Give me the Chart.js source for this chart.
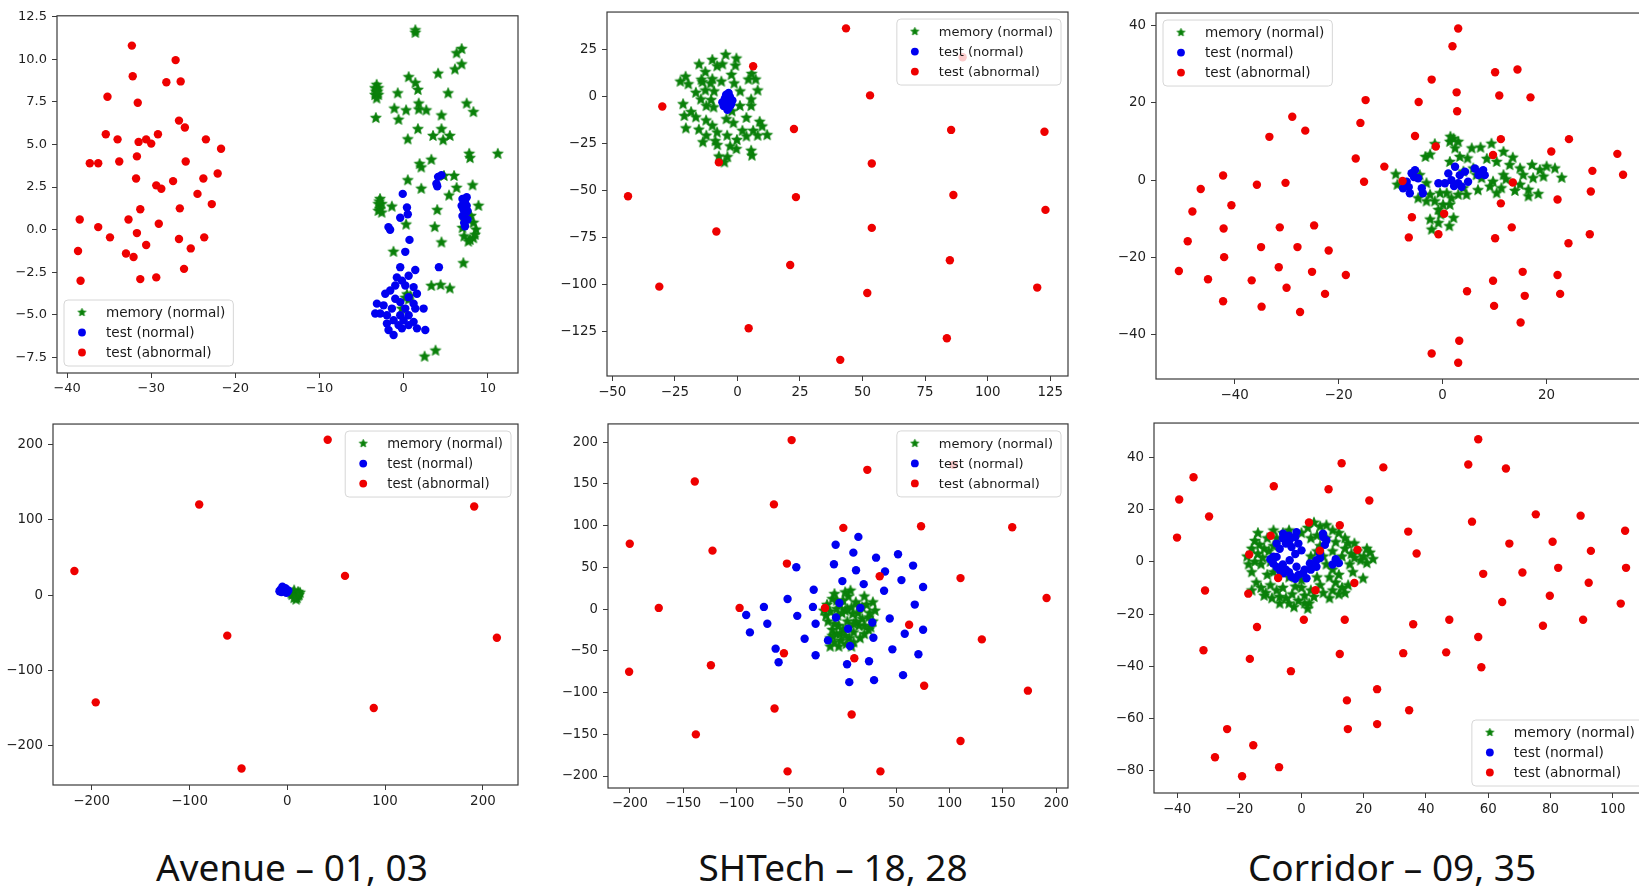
<!DOCTYPE html>
<html lang="en">
<head>
  <meta charset="UTF-8">
  <title>t-SNE memory / test features</title>
  <script src="https://cdn.jsdelivr.net/npm/chart.js"></script>
  <style>
    html, body {
      margin: 0;
      width: 1639px;
      height: 888px;
      overflow: hidden;
      background: #fff;
    }
    canvas {
      position: absolute;
    }
    .cap {
      position: absolute;
      top: 847px;
      font-family: "Noto Sans", sans-serif;
      font-size: 37px;
      line-height: 40px;
      color: #111;
      white-space: nowrap;
      transform: translateX(-50%);
    }
  </style>
</head>
<body>
  <canvas id="avenue01"></canvas>
  <canvas id="shtech18"></canvas>
  <canvas id="corridor09"></canvas>
  <canvas id="avenue03"></canvas>
  <canvas id="shtech28"></canvas>
  <canvas id="corridor35"></canvas>

  <div class="cap" style="left:292px">Avenue – 01, 03</div>
  <div class="cap" style="left:833px">SHTech – 18, 28</div>
  <div class="cap" style="left:1392px">Corridor – 09, 35</div>

  <script>
    const seriesLabels = ['memory (normal)', 'test (normal)', 'test (abnormal)'];

    // ---- Avenue 01 (top left) ----
    const avenue01Mem = [[1.4,11.55],[1.4,11.7],[6.9,10.6],[6.3,10.35],[6.9,9.7],[6.1,9.4],[4.1,9.15],[0.6,8.95],[1.4,8.6],[1.7,8.2],[-0.7,8.0],[5.3,8.0],
      [-3.2,8.5],[-3.4,8.3],[-3.0,8.3],[-3.4,7.9],[-3.0,7.9],[-3.2,7.7],[-3.3,8.1],[-3.1,8.1],
      [7.5,7.4],[8.3,6.9],[1.8,7.4],[-1.1,7.1],[0.3,7.0],[1.8,7.05],[2.7,7.0],[4.5,6.7],[-3.3,6.55],[-0.6,6.45],[1.7,5.9],[4.5,5.9],[3.5,5.5],[5.5,5.5],[4.7,5.25],[0.5,5.3],
      [7.8,4.45],[7.9,4.2],[11.2,4.45],[3.3,4.1],[1.9,3.85],[2.1,3.65],[0.5,2.9],[4.8,3.15],[6.0,3.15],[6.3,2.45],[8.2,2.6],[2.1,2.4],[5.4,2.0],
      [-2.8,1.8],[-3.0,1.5],[-2.6,1.5],[-2.8,1.2],[-3.0,1.1],[-2.6,1.0],[-2.9,1.65],
      [-1.4,1.35],[4.0,1.15],[8.9,1.4],[0.3,0.3],[3.7,0.15],
      [7.7,0.6],[8.3,0.4],[8.6,0],[8.3,-0.5],[7.7,-0.7],[7.2,-0.4],[7.0,0.1],[7.3,0.5],[8.0,0.8],[8.5,-0.3],[7.9,-0.6],
      [4.5,-0.75],[-1.2,-1.3],[7.1,-1.97],[3.3,-3.3],[4.4,-3.25],[5.5,-3.45],[0.4,-3.8],[0.2,-4.0],[0.6,-4.1],[0.8,-3.9],[-0.2,-4.65],[2.5,-7.45],[3.8,-7.1]];
    const avenue01Test = [[4.1,3.1],[3.9,2.7],[4.5,3.2],[4.0,2.55],[-0.1,2.1],[0.4,1.3],[0.5,0.9],[-0.4,0.7],[-1.8,0.15],[-1.6,0.0],[0.7,-0.6],[0.2,-1.3],
      [7.0,1.8],[7.3,1.6],[7.5,1.4],[7.1,1.2],[7.4,1.0],[7.0,0.8],[7.6,0.6],[7.2,0.4],[7.5,1.9],[7.3,0.2],[7.6,1.1],[6.9,1.4],
      [4.2,-2.2],[-0.4,-2.2],[1.39,-2.37],[0.6,-2.7],[-0.8,-2.8],[-0.2,-2.99],[-0.99,-3.28],[0.2,-3.28],[1.19,-3.37],[-1.59,-3.57],[1.59,-3.76],[-2.18,-3.76],
      [0.6,-3.96],[-0.99,-4.05],[-0.4,-4.25],[1.19,-4.34],[-2.38,-4.44],[-3.17,-4.34],[-1.39,-4.63],[0.2,-4.63],[1.39,-4.63],[2.38,-4.63],[-2.78,-4.92],[-1.98,-5.02],
      [-0.4,-5.02],[0.6,-5.02],[-1.19,-5.31],[0,-5.31],[1.19,-5.41],[-1.98,-5.51],[-0.6,-5.6],[0.6,-5.6],[1.59,-5.79],[-1.79,-5.89],[-1.19,-6.18],[2.58,-5.89],[-0.2,-5.79],[-3.37,-4.92]];
    const avenue01Abn = [[-32.3,10.8],[-27.1,9.95],[-32.2,9.0],[-28.2,8.65],[-26.5,8.7],[-35.2,7.8],[-31.6,7.45],[-26.7,6.4],[-26.0,6.0],[-35.4,5.6],[-34.0,5.3],[-31.5,5.15],
      [-30.6,5.3],[-30.0,5.05],[-29.2,5.6],[-23.5,5.3],[-21.7,4.75],[-37.3,3.9],[-36.3,3.9],[-33.8,4.0],[-31.7,4.3],[-25.9,4.0],[-31.8,3.0],[-27.4,2.85],[-29.4,2.6],
      [-28.8,2.4],[-23.8,3.0],[-22.1,3.3],[-24.5,2.1],[-22.8,1.5],[-31.3,1.2],[-26.6,1.25],[-38.5,0.6],[-32.7,0.6],[-36.3,0.15],[-29.1,0.35],[-34.9,-0.45],[-31.7,-0.2],
      [-26.7,-0.55],[-23.7,-0.45],[-30.6,-0.9],[-25.3,-1.1],[-38.7,-1.25],[-33.0,-1.4],[-32.1,-1.6],[-26.1,-2.3],[-31.3,-2.9],[-29.4,-2.8],[-38.4,-3.0]];
    const avenue01XTicks = [-40, -30, -20, -10, 0, 10];
    const avenue01YTicks = [-7.5, -5, -2.5, 0, 2.5, 5, 7.5, 10, 12.5];

    // ---- SHTech 18 (top middle) ----
    const shtech18Mem = [[-4.7,22.3],[-0.4,20.3],[-10.0,19.6],[-6.0,17.2],[-15.3,17.2],[-8.1,16.2],[-0.8,16.5],[-20.7,10.6],[-12.8,13.1],[-2.4,11.6],[-14.4,9.0],[-10.0,9.3],
      [5.7,12.1],[7.3,9.1],[4.4,9.1],[-22.8,8.0],[-19.6,6.6],[-14.0,7.7],[-10.7,7.0],[-6.4,8.0],[-1.3,7.0],[-16.6,2.1],[-12.8,3.3],[-9.3,2.8],[1.1,2.8],[8.1,3.3],
      [-14.6,-1.5],[-10.5,-1.8],[5.5,-1.5],[-21.7,-4.0],[-12.4,-5.0],[-9.5,-5.7],[1.0,-5.0],[5.5,-5.0],[-2.2,-7.8],[-18.5,-8.2],[-21.2,-10.3],[-16.6,-11.0],
      [-12.5,-12.7],[-4.4,-12.0],[3.6,-11.3],[-10.0,-15.5],[-1.6,-14.1],[8.9,-13.4],[9.9,-15.9],[-20.6,-16.9],[-15.4,-17.6],[2.0,-18.2],[6.3,-18.2],[-8.1,-19.1],
      [11.9,-20.5],[-12.4,-20.8],[-4.1,-20.8],[3.6,-21.2],[8.1,-20.8],[-8.8,-23.7],[-0.2,-23.1],[-13.8,-24.3],[-8.0,-25.8],[-2.9,-26.5],[-0.4,-27.9],[5.5,-28.8],
      [5.8,-31.4],[-7.4,-31.9],[-4.0,-32.2],[-5.2,-35.0]];
    const shtech18Test = [[-4,-3],[-3,0],[-5,-1],[-2.5,-4],[-5.5,-5],[-3.5,-6],[-4.5,1],[-2,-2],[-6,-3],[-3,-5],[-4,-2],[-5,-4],[-3.5,2],[-4,-7]];
    const shtech18Abn = [[43.4,36.4],[6.3,16.2],[90,21],[53.0,0.7],[-30.0,-5.2],[22.6,-17.2],[85.4,-17.7],[122.7,-18.7],[53.7,-35.6],[-7.4,-35.0],[-43.7,-53.0],
      [23.4,-53.5],[86.3,-52.4],[123.1,-60.3],[53.7,-69.9],[-8.4,-71.8],[21.1,-89.7],[84.9,-87.1],[-31.2,-101.2],[51.9,-104.6],[119.8,-101.7],[4.5,-123.4],
      [83.7,-128.7],[41.1,-140.2]];
    const shtech18XTicks = [-50, -25, 0, 25, 50, 75, 100, 125];
    const shtech18YTicks = [-125, -100, -75, -50, -25, 0, 25];

    // ---- Corridor 09 (top right) ----
    const corridor09Mem = [[-9.0,1.5],[-8.7,-1.2],[-3.3,6.0],[-2.4,6.6],[-1.5,9.3],[2.1,10.7],[1.4,9.9],[3.0,9.9],[2.4,8.2],[1.5,11.2],[5.6,8.2],[7.3,8.4],[9.4,9.4],
      [11.7,7.3],[4.8,5.6],[3.3,6.0],[1.4,4.7],[10.4,4.7],[12.9,3.9],[14.9,3.0],[17.2,3.9],[18.7,2.6],[20.0,3.5],[21.6,3.0],[22.9,0.6],[19.4,0.9],[17.4,0.5],
      [15.5,1.3],[11.7,1.3],[9.7,-0.4],[9.1,-1.7],[11.3,-2.1],[14.9,-1.2],[16.5,-2.5],[18.4,-3.6],[13.9,-2.8],[10.4,-3.4],[16.5,-4.2],[-3.1,-0.8],[-2.4,-3.8],
      [-1.5,-5.5],[-0.5,-3.4],[0.8,-3.4],[1.7,-4.7],[3.0,-3.8],[-3.1,-5.5],[0.1,-6.4],[1.4,-6.4],[-0.8,-7.7],[2.1,-9.8],[-2.4,-10.2],[-0.8,-11.1],[-2.1,-12.8],
      [1.3,-11.9],[-0.4,-8.9],[4.0,-2.1],[4.6,-3.8],[6.5,1.3],[7.5,0.5],[5.9,3.0],[4.0,2.2],[-4.7,-4.7],[-4.4,1.3],[8.5,5.5],[13.5,5.8],[6.8,-2.6],[12.2,0.2]];
    const corridor09Test = [[-7.6,-2.1],[-6.9,-0.4],[-5.96,1.8],[-5.3,2.6],[-4.7,0.5],[-4.0,-2.1],[-3.8,-3.4],[-6.3,-3.4],[-0.8,-0.8],[0.45,-0.8],[1.7,0.0],
      [2.4,3.45],[3.0,-0.8],[3.65,-1.7],[4.3,2.2],[4.9,-0.4],[6.2,3.0],[6.9,1.3],[7.8,2.6],[8.1,1.3],[1.1,1.75],[3.3,1.3],[-5.5,0.8],[-6.5,-1.8],[2.2,-1.5],[7.2,2.0]];
    const corridor09Abn = [[3.0,39.2],[1.9,34.6],[-2.1,26.0],[10.1,27.9],[14.4,28.6],[2.7,22.7],[-4.6,20.2],[10.9,21.9],[16.9,21.4],[-14.8,20.7],[-28.9,16.4],
      [2.8,17.8],[-15.8,14.8],[-26.4,12.8],[-33.3,11.2],[-5.3,11.4],[11.2,10.6],[24.3,10.6],[-1.3,8.7],[9.7,6.5],[20.9,7.4],[33.6,6.8],[-16.7,5.6],[-11.2,3.5],
      [28.8,2.4],[34.7,1.4],[-42.2,1.2],[-7.7,-0.2],[-15.1,-0.4],[13.5,-0.6],[-35.7,-1.2],[-30.2,-0.7],[-46.5,-2.3],[22.1,-5.0],[28.5,-2.95],[11.2,-6.0],
      [-40.6,-6.5],[-48.1,-8.1],[0.3,-8.7],[-5.9,-9.6],[-24.7,-11.7],[-31.3,-12.2],[-42.1,-12.5],[13.3,-12.2],[-0.8,-14.0],[-6.5,-14.8],[10.1,-15.0],[28.3,-14.0],
      [24.2,-16.3],[-49.0,-15.8],[-34.9,-17.3],[-27.9,-17.3],[-21.9,-18.2],[-42.0,-19.9],[-31.5,-22.5],[-50.7,-23.5],[-18.6,-24.5],[-25.1,-23.7],[9.7,-26.0],
      [15.4,-23.7],[22.1,-24.5],[-45.1,-25.6],[-36.7,-25.9],[-30.0,-27.8],[4.7,-28.7],[-22.6,-29.4],[15.8,-29.9],[22.6,-29.4],[-42.2,-31.3],[-34.8,-32.7],
      [-27.4,-34.1],[9.9,-32.5],[15.0,-36.8],[3.2,-41.5],[-2.1,-44.8],[3.0,-47.2]];
    const corridor09XTicks = [-40, -20, 0, 20, 40];
    const corridor09YTicks = [-40, -20, 0, 20, 40];

    // ---- Avenue 03 (bottom left) ----
    const avenue03Mem = [[6,3],[9,1],[11,4],[8,-2],[5,0],[12,0],[7,6],[10,-4],[4,2],[13,3],[9,-6],[11,-1],[7,-4]];
    const avenue03Test = [[-5,8],[-3,5],[-1,7],[-6,4],[-2,9],[0,4],[-4,6],[-7,7],[1,6],[-5,11],[-8,5],[-1,3]];
    const avenue03Abn = [[41.3,205.7],[-90.1,119.9],[191.1,117.3],[-217.7,31.9],[59.0,25.4],[-61.4,-53.8],[214.3,-56.5],[-195.9,-142.2],[88.4,-149.7],[-46.8,-229.8]];
    const avenue03XTicks = [-200, -100, 0, 100, 200];
    const avenue03YTicks = [-200, -100, 0, 100, 200];

    // ---- SHTech 28 (bottom middle) ----
    const shtech28Mem = [[-15,5],[-12,-3],[-10,12],[-8,18],[-5,-8],[-3,5],[0,10],[2,-2],[5,15],[7,22],[9,-6],[12,8],[15,3],[18,-12],[20,15],[22,5],[25,-5],
      [28,8],[28,-15],[24,-25],[20,-30],[15,-20],[10,-28],[6,-35],[3,-42],[-2,-38],[-6,-30],[-10,-25],[-14,-15],[-8,-40],[0,-25],[4,-15],[-4,-20],[10,-40],
      [12,-15],[-12,-35],[16,-35],[-1,-5],[8,2],[-6,0],[2,20],[-16,-8],[26,-22],[-18,-2],[-8,-18],[-3,-30],[6,-22],[14,-5],[20,-20],[-6,10],[4,0],[18,2],
      [-12,-45],[-4,-45],[2,-32],[10,-18],[24,-10],[30,-2],[-10,-32],[8,-45]];
    const shtech28Test = [[14.4,86.5],[-6.9,77.1],[9.7,67.6],[51.6,65.6],[31.0,61.6],[-43.8,50.1],[-8.5,53.7],[65.7,52.1],[12.2,46.6],[39.4,45.0],[-0.6,33.5],
      [54.8,34.7],[19.4,29.9],[75.1,26.4],[-27.5,23.2],[38.5,22.0],[-52.0,12.1],[-74.2,2.6],[-28.2,2.6],[-3.4,7.3],[16.3,1.4],[67.3,5.4],[-90.8,-7.0],[-42.9,-8.1],
      [43.8,-11.3],[-6.6,-10.1],[-71.0,-17.6],[-25.7,-17.6],[27.5,-16.1],[4.7,-23.6],[-87.3,-27.9],[57.9,-29.5],[75.1,-24.8],[-36.0,-35.5],[28.5,-34.3],[-14.1,-37.5],
      [-63.2,-47.4],[6.6,-44.2],[46.3,-48.2],[-25.7,-55.3],[70.7,-54.1],[-60.4,-63.6],[24.4,-62.4],[3.8,-66.0],[56.3,-79.1],[29.1,-85.1],[5.9,-87.5]];
    const shtech28Abn = [[-48.2,202.4],[22.8,166.8],[103.6,172.8],[-139.0,152.8],[-64.8,125.4],[0.3,97.3],[73.2,99.3],[158.7,98.1],[-200.0,78.3],[-122.4,70.0],
      [-52.6,54.5],[34.4,39.4],[110.2,37.1],[190.9,13.3],[-172.8,1.4],[-97.0,1.4],[-16.9,1.4],[62.0,-18.8],[130.2,-36.3],[-55.4,-52.9],[10.6,-58.9],[-123.9,-67.2],
      [-200.6,-75.1],[76.1,-91.8],[173.4,-97.7],[-64.2,-119.1],[8.1,-126.2],[-138.0,-150.1],[110.2,-158.0],[-52.0,-194.4],[35.1,-194.4]];
    const shtech28XTicks = [-200, -150, -100, -50, 0, 50, 100, 150, 200];
    const shtech28YTicks = [-200, -150, -100, -50, 0, 50, 100, 150, 200];

    // ---- Corridor 35 (bottom right) ----
    const corridor35Mem = [[-17.5,2],[-16,5],[-15,8],[-13.5,6.5],[-14,3],[-12,5],[-11,9],[-15,0],[-13,-1],[-12.5,1.5],[-10.5,4],
      [-14.5,-8],[-13,-10],[-11.5,-12],[-10,-9],[-8,-11],[-7,-13.5],[-12,-13],[-9.5,-14],[-6,-10],
      [-5,-14],[-3,-12.5],[-1,-15],[1,-13],[2.5,-16],[4,-13.5],[3,-11],[0,-10],[-2,-9.5],[2,-18],
      [2,13],[4,15],[6,13.5],[8,14],[10,12],[12,11],[14,9],[15,7],[5,10],[8,9],[11,7.5],[3,9],
      [14,5],[16,3],[18,4],[20,2],[22,3.5],[23,1],[21,-0.5],[19,0.5],[17,1.5],[15.5,-1],
      [8,-1],[10,-3],[12,-5],[9,-6],[11,-8],[13,-10],[10,-11],[14,-12],[12,-12.5],[16.5,-4],[19.8,-6.4],
      [5,4],[7,2],[3,2],[-6,11],[-8,9],[-9,6],[-4,12],[0,11],[-10,0],[-9,-4],[-4,-6],[0,-7],[5,-6],[6,-9],[-2.4,-17.4],[-17,-1],[-16,-11],
      [-16,-4],[-11,-5],[-7,-16],[-4,-16],[1,-16],[7,-12],[9,-14],[15,-9],[13,2],[17,7],[21,5],[6,6],[10,4],[-14,11],[-9,12]];
    const corridor35Test = [[-5.9,10.8],[-1.6,11.4],[-3.8,8.3],[-8.0,7.0],[-3.2,5.7],[0,4.4],[-8.0,1.9],[-9.1,-0.6],[-7.0,-3.2],[-3.8,0.6],[-1.6,-1.9],
      [0.5,-4.4],[1.6,-6.3],[-3.2,-5.7],[-5.9,-4.4],[4.8,0.6],[5.9,3.2],[6.9,10.8],[8.0,8.3],[11.3,0],[2.7,-0.6],[4.8,-1.9],[-6,9],[-4,10],[-2,9.5],[-7,5],
      [-9,2],[-6,-1],[-5,-3],[-1,-5],[1,-3],[-2,-6.5],[-4,-4],[6,1.5],[7,9.5],[7.5,6.5],[11,1],[12,-0.5],[-8,-2],[-1,7],[-5,7],[-2,3],[3,-3],[10,-1],[-10,1]];
    const corridor35Abn = [[56.8,47.0],[-34.7,32.4],[12.9,37.8],[26.3,36.2],[53.6,37.3],[65.7,35.8],[-39.3,23.9],[-8.9,29.0],[8.7,27.8],[21.8,23.5],[-29.7,17.4],
      [75.3,18.2],[89.7,17.7],[54.8,15.4],[2.4,15.1],[12.3,14.0],[-40.0,9.3],[-9.9,10.0],[34.3,11.6],[104.0,11.9],[66.8,7.0],[80.7,7.7],[-16.8,2.8],[5.9,4.3],
      [18.0,4.6],[37.0,3.2],[93.0,4.2],[58.4,-4.6],[71.0,-4.1],[82.5,-2.3],[104.3,-2.3],[-7.5,-6.2],[17.0,-8.1],[92.3,-8.0],[-31.0,-11.0],[-17.1,-12.2],[4.5,-10.9],
      [64.5,-15.4],[79.8,-13.0],[102.6,-16.0],[0.75,-22.2],[13.9,-22.2],[-14.3,-25.0],[35.9,-23.9],[47.5,-22.2],[77.6,-24.5],[90.5,-22.2],[56.8,-28.8],[-31.5,-33.9],
      [12.3,-35.3],[32.7,-35.0],[46.5,-34.7],[-16.6,-37.2],[57.8,-40.4],[-3.4,-41.9],[24.3,-48.8],[14.6,-53.1],[34.6,-56.9],[-23.9,-64.1],[14.9,-64.1],[24.3,-62.2],
      [-15.5,-70.3],[-27.8,-74.9],[-7.2,-78.7],[-19.1,-82.2]];
    const corridor35XTicks = [-40, -20, 0, 20, 40, 60, 80, 100];
    const corridor35YTicks = [-80, -60, -40, -20, 0, 20, 40];

    const GREEN = '#0a800a', BLUE = '#0000f0', RED = '#ee0000';

    // filled 5 point star, like matplotlib '*'
    function starImage(r) {
      const c = document.createElement('canvas');
      const s = Math.ceil(r * 2 + 2);
      c.width = c.height = s;
      const g = c.getContext('2d');
      g.translate(s / 2, s / 2);
      g.beginPath();
      for (let i = 0; i < 10; i++) {
        const rad = i % 2 ? r * 0.45 : r;
        const a = -Math.PI / 2 + i * Math.PI / 5;
        g.lineTo(rad * Math.cos(a), rad * Math.sin(a));
      }
      g.closePath();
      g.fillStyle = GREEN;
      g.fill();
      g.strokeStyle = GREEN;
      g.lineWidth = 0.8;
      g.stroke();
      return c;
    }
    const star = starImage(5.6);
    const legendStar = starImage(4.2);

    // full box round the axes
    const frame = {
      id: 'frame',
      afterDatasetsDraw(chart) {
        const { ctx, chartArea: a } = chart;
        ctx.save();
        ctx.strokeStyle = '#3a3a3a';
        ctx.lineWidth = 1.2;
        ctx.strokeRect(a.left, a.top, a.right - a.left, a.bottom - a.top);
        ctx.restore();
      }
    };

    // matplotlib style legend inside the axes
    const mplLegend = {
      id: 'mplLegend',
      afterDraw(chart, args, o) {
        const { ctx, chartArea: a } = chart;
        const sets = chart.data.datasets;
        ctx.save();
        ctx.font = o.size + 'px "DejaVu Sans"';
        const tw = Math.max(...sets.map(d => ctx.measureText(d.label).width));
        const w = 42 + tw + 8, h = 66, gap = 7;
        const x = o.pos[1] === 'r' ? a.right - gap - w : a.left + gap;
        const y = o.pos[0] === 'u' ? a.top + gap : a.bottom - gap - h;
        ctx.beginPath();
        ctx.roundRect(x, y, w, h, 4);
        ctx.fillStyle = 'rgba(255,255,255,0.8)';
        ctx.fill();
        ctx.strokeStyle = '#d6d6d6';
        ctx.lineWidth = 1;
        ctx.stroke();
        sets.forEach((d, i) => {
          const cy = y + 12.5 + i * 20;
          if (d.pointStyle === star) {
            ctx.drawImage(legendStar, x + 18 - legendStar.width / 2, cy - legendStar.height / 2);
          } else {
            ctx.beginPath();
            ctx.arc(x + 18, cy, 3.9, 0, Math.PI * 2);
            ctx.fillStyle = d.backgroundColor;
            ctx.fill();
          }
          ctx.fillStyle = '#1a1a1a';
          ctx.textBaseline = 'middle';
          ctx.fillText(d.label, x + 42, cy + 1);
        });
        ctx.restore();
      }
    };

    const fmt = dec => v => (dec ? v.toFixed(dec) : String(v)).replace('-', '\u2212');

    function panel(id, box, xr, yr, xt, yt, mem, test, abn, leg, ydec) {
      const cv = document.getElementById(id);
      const padL = 60, padT = 10, padR = 16, padB = 30;
      cv.width = box.r - box.l + padL + padR;
      cv.height = box.b - box.t + padT + padB;
      cv.style.left = (box.l - padL) + 'px';
      cv.style.top = (box.t - padT) + 'px';

      const tickFont = { family: 'DejaVu Sans', size: leg.tick };
      new Chart(cv, {
        type: 'scatter',
        data: {
          datasets: [
            { label: seriesLabels[0], data: mem, pointStyle: star, pointRadius: 4, backgroundColor: GREEN, order: 3 },
            { label: seriesLabels[1], data: test, pointRadius: 4.2, pointBorderWidth: 0, backgroundColor: BLUE, order: 2 },
            { label: seriesLabels[2], data: abn, pointRadius: 4.2, pointBorderWidth: 0, backgroundColor: RED, order: 1 }
          ]
        },
        options: {
          responsive: false,
          animation: false,
          events: [],
          layout: { padding: { left: 0, top: padT, right: padR, bottom: 0 } },
          plugins: {
            legend: { display: false },
            tooltip: { enabled: false },
            mplLegend: leg
          },
          scales: {
            x: {
              type: 'linear', min: xr[0], max: xr[1],
              afterBuildTicks: s => { s.ticks = xt.map(v => ({ value: v })); },
              afterFit: s => { s.height = padB; },
              border: { display: false },
              grid: { drawOnChartArea: false, tickLength: 5, color: '#3a3a3a' },
              ticks: { font: tickFont, color: '#1e1e1e', padding: 3, maxRotation: 0, autoSkip: false, callback: fmt(0) }
            },
            y: {
              type: 'linear', min: yr[0], max: yr[1],
              afterBuildTicks: s => { s.ticks = yt.map(v => ({ value: v })); },
              afterFit: s => { s.width = padL; },
              border: { display: false },
              grid: { drawOnChartArea: false, tickLength: 5, color: '#3a3a3a' },
              ticks: { font: tickFont, color: '#1e1e1e', padding: 5, autoSkip: false, callback: fmt(ydec || 0) }
            }
          }
        },
        plugins: [frame, mplLegend]
      });
    }

    panel('avenue01', { l: 57, t: 13, r: 518, b: 373 }, [-41.2, 13.6], [-8.41, 12.55],
      avenue01XTicks, avenue01YTicks, avenue01Mem, avenue01Test, avenue01Abn, { pos: 'll', size: 13.6, tick: 13 }, 1);
    panel('shtech18', { l: 607, t: 9, r: 1068, b: 376 }, [-52.1, 132.1], [-148.8, 45.1],
      shtech18XTicks, shtech18YTicks, shtech18Mem, shtech18Test, shtech18Abn, { pos: 'ur', size: 13, tick: 13.4 });
    panel('corridor09', { l: 1156, t: 10, r: 1660, b: 379 }, [-55.1, 41.8], [-51.4, 43.2],
      corridor09XTicks, corridor09YTicks, corridor09Mem, corridor09Test, corridor09Abn, { pos: 'ul', size: 13.6, tick: 13.4 });
    panel('avenue03', { l: 53, t: 421, r: 518, b: 785 }, [-239.6, 235.9], [-251.7, 226.6],
      avenue03XTicks, avenue03YTicks, avenue03Mem, avenue03Test, avenue03Abn, { pos: 'ur', size: 13.2, tick: 13.4 });
    panel('shtech28', { l: 608, t: 421, r: 1068, b: 788 }, [-220.4, 211], [-214.3, 221.8],
      shtech28XTicks, shtech28YTicks, shtech28Mem, shtech28Test, shtech28Abn, { pos: 'ur', size: 13, tick: 13.2 });
    panel('corridor35', { l: 1154, t: 420, r: 1650, b: 793 }, [-47.4, 112], [-88.6, 53.2],
      corridor35XTicks, corridor35YTicks, corridor35Mem, corridor35Test, corridor35Abn, { pos: 'lr', size: 13.8, tick: 13.4 });
  </script>
</body>
</html>
